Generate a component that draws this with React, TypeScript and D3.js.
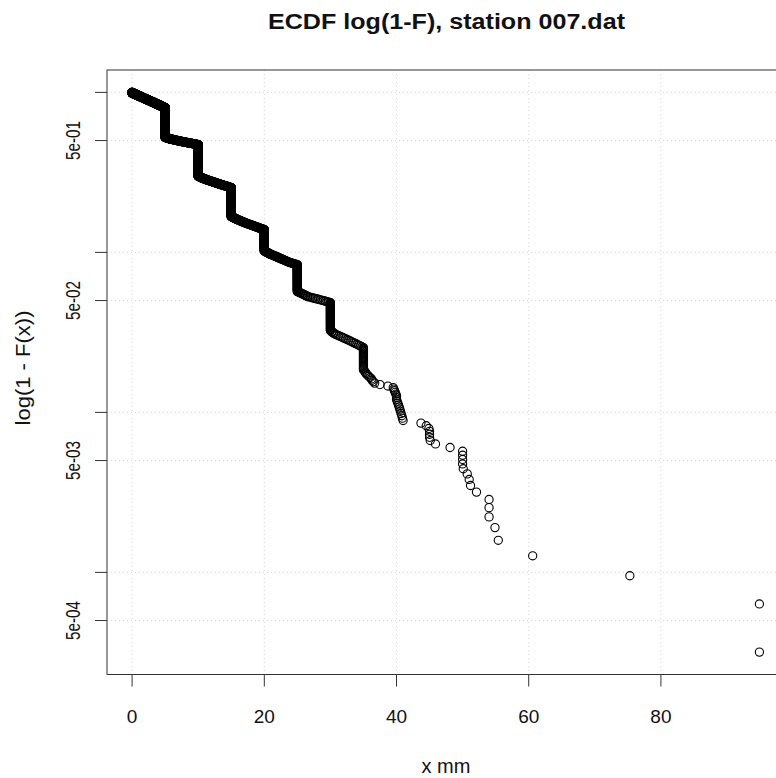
import React from 'react';
import * as d3 from 'd3';

const title = 'ECDF log(1-F), station 007.dat';
const xLabel = 'x mm';
const yLabel = 'log(1 - F(x))';

const obsValues = [
  0, 0.25, 0.5, 0.75, 1, 1.25, 1.5, 1.75, 2, 2.25, 2.5, 2.75, 3, 3.25, 3.5, 3.75, 4, 4.25, 4.5, 4.75,
  5,
  5.25, 5.5, 5.75, 6, 6.25, 6.5, 6.75, 7, 7.25, 7.5, 7.75, 8, 8.25, 8.5, 8.75, 9, 9.25, 9.5, 9.75,
  10,
  10.25, 10.5, 10.75, 11, 11.25, 11.5, 11.75, 12, 12.25, 12.5, 12.75, 13, 13.25, 13.5, 13.75, 14, 14.25, 14.5, 14.75,
  15,
  15.25, 15.5, 15.75, 16, 16.25, 16.5, 16.75, 17, 17.25, 17.5, 17.75, 18, 18.25, 18.5, 18.75, 19, 19.25, 19.5, 19.75,
  20,
  20.25, 20.5, 20.75, 21, 21.25, 21.5, 21.75, 22, 22.25, 22.5, 22.75, 23, 23.25, 23.5, 23.75, 24, 24.25, 24.5, 24.75,
  25,
  25.25, 25.5, 25.75, 26, 26.25, 26.5, 26.75, 27, 27.25, 27.5, 27.75, 28, 28.25, 28.5, 28.75, 29, 29.25, 29.5, 29.75,
  30,
  30.25, 30.5, 30.75, 31, 31.25, 31.5, 31.75, 32, 32.25, 32.5, 32.75, 33, 33.25, 33.5, 33.75, 34, 34.25, 34.5, 34.75,
  35,
  35.2, 35.3, 35.4, 35.6, 35.8, 36.0, 36.2, 36.3, 36.5, 36.7, 37.5, 38.7,
  39.5, 39.6, 39.7, 39.8, 39.9, 40.0, 40.1, 40.2, 40.3, 40.4, 40.5, 40.6, 40.7, 40.8, 40.9, 41.0,
  43.7, 44.5, 44.9, 45.0, 45.1, 45.9, 48.1, 50.0, 50.1, 50.7, 51.0, 51.2, 52.1, 54.0, 54.9, 55.4,
  60.6, 75.3, 94.9,
];
const obsCounts = [
  36, 34, 33, 33, 32, 32, 31, 31, 31, 30, 30, 30, 30, 29, 29, 29, 29, 29, 29, 29,
  888,
  16, 12, 10, 9, 9, 8, 8, 8, 8, 8, 7, 7, 7, 7, 7, 7, 7, 7, 7,
  547,
  12, 10, 9, 8, 8, 7, 7, 7, 7, 7, 7, 7, 7, 6, 6, 6, 6, 6, 6,
  276,
  7, 6, 6, 5, 5, 5, 5, 5, 4, 4, 4, 4, 4, 4, 4, 4, 4, 4, 3,
  118,
  5, 4, 4, 3, 3, 3, 3, 3, 3, 3, 3, 3, 3, 3, 2, 2, 2, 2, 2,
  86,
  2, 2, 2, 2, 2, 2, 1, 1, 1, 1, 1, 1, 1, 1, 1, 1, 1, 1, 1,
  52,
  2, 2, 1, 1, 1, 1, 1, 1, 1, 1, 1, 1, 1, 1, 1, 1, 1, 1, 1,
  23,
  1, 1, 1, 1, 1, 1, 1, 1, 1, 1, 1, 1,
  1, 1, 1, 1, 1, 3, 1, 1, 1, 1, 1, 1, 1, 1, 1, 1,
  1, 1, 1, 3, 1, 1, 1, 4, 1, 1, 1, 1, 1, 3, 1, 1,
  1, 1, 2,
];

const xTicks = [0, 20, 40, 60, 80];
const yTicks = [1, 0.5, 0.1, 0.05, 0.01, 0.005, 0.001, 0.0005];
const yTickLabels = ['', '5e-01', '', '5e-02', '', '5e-03', '', '5e-04'];

export default function App() {
  const W = 776;
  const H = 778;
  const plotLeft = 107;
  const plotRight = 784.5;
  const plotTop = 70;
  const plotBottom = 674.5;

  const expanded: number[] = [];
  obsValues.forEach((v, i) => {
    for (let j = 0; j < obsCounts[i]; j++) expanded.push(v);
  });
  expanded.sort((a, b) => a - b);
  const n = expanded.length;
  const points = expanded.map((x, i) => ({ x, p: (n - i) / n }));

  const xmin = d3.min(expanded) as number;
  const xmax = d3.max(expanded) as number;
  const xpad = 0.04 * (xmax - xmin);
  const x = d3.scaleLinear().domain([xmin - xpad, xmax + xpad]).range([plotLeft, plotRight]);

  const pmin = 1 / n;
  const lpad = 0.04 * Math.log10(1 / pmin);
  const y = d3
    .scaleLog()
    .domain([pmin / Math.pow(10, lpad), Math.pow(10, lpad)])
    .range([plotBottom, plotTop]);

  const font = '"Liberation Sans", Arial, Helvetica, sans-serif';

  return (
    <svg
      width={W}
      height={H}
      style={{ position: 'absolute', left: 0, top: 0, background: '#fff' }}
      xmlns="http://www.w3.org/2000/svg"
    >
      <rect x={0} y={0} width={W} height={H} fill="#fff" />
      {/* grid */}
      <g stroke="#d3d3d3" strokeWidth={1} strokeDasharray="1 3">
        {xTicks.map((t) => (
          <line key={'gx' + t} x1={x(t)} x2={x(t)} y1={plotTop} y2={plotBottom} />
        ))}
        {yTicks.map((t) => (
          <line key={'gy' + t} x1={plotLeft} x2={plotRight} y1={y(t)} y2={y(t)} />
        ))}
      </g>
      {/* points */}
      <g fill="none" stroke="#000" strokeWidth={1.1}>
        {points.map((d, i) => (
          <circle key={i} cx={x(d.x)} cy={y(d.p)} r={4.1} />
        ))}
      </g>
      {/* box */}
      <rect
        x={plotLeft}
        y={plotTop}
        width={plotRight - plotLeft}
        height={plotBottom - plotTop}
        fill="none"
        stroke="#333"
        strokeWidth={1}
      />
      {/* ticks */}
      <g stroke="#333" strokeWidth={1}>
        {xTicks.map((t) => (
          <line key={'tx' + t} x1={x(t)} x2={x(t)} y1={plotBottom} y2={plotBottom + 12} />
        ))}
        {yTicks.map((t) => (
          <line key={'ty' + t} x1={plotLeft - 12} x2={plotLeft} y1={y(t)} y2={y(t)} />
        ))}
      </g>
      <g fontFamily={font} fontSize={19} fill="#111" textAnchor="middle">
        {xTicks.map((t) => (
          <text key={'lx' + t} x={x(t)} y={722.5}>
            {String(t)}
          </text>
        ))}
      </g>
      <g fontFamily={font} fontSize={20} fill="#111" textAnchor="middle">
        {yTicks.map((t, i) =>
          yTickLabels[i] ? (
            <text
              key={'ly' + t}
              transform={`translate(80,${y(t)}) rotate(-90)`}
              textLength={39}
              lengthAdjust="spacingAndGlyphs"
            >
              {yTickLabels[i]}
            </text>
          ) : null
        )}
      </g>
      <text
        x={446.5}
        y={28.5}
        fontFamily={font}
        fontSize={22}
        fontWeight="bold"
        textAnchor="middle"
        fill="#111"
        textLength={357}
        lengthAdjust="spacingAndGlyphs"
      >
        {title}
      </text>
      <text x={446} y={773} fontFamily={font} fontSize={20} textAnchor="middle" fill="#111">
        {xLabel}
      </text>
      <text
        transform={`translate(30,368) rotate(-90)`}
        fontFamily={font}
        fontSize={21}
        textAnchor="middle"
        fill="#111"
        textLength={115}
        lengthAdjust="spacingAndGlyphs"
      >
        {yLabel}
      </text>
    </svg>
  );
}
